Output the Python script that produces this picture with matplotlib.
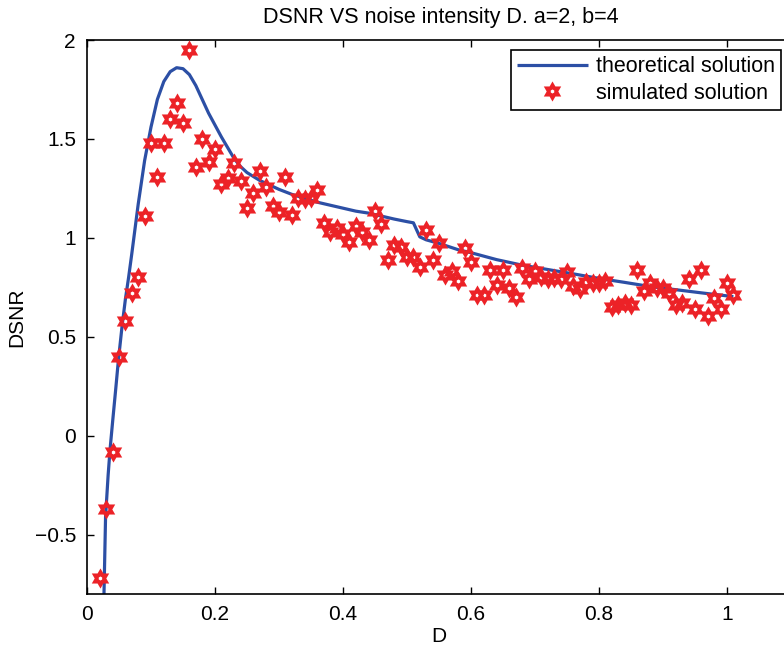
import numpy as np
import matplotlib
matplotlib.use("Agg")
import matplotlib.pyplot as plt
from matplotlib.path import Path

plt.rcParams['font.family'] = ['Liberation Sans', 'DejaVu Sans']

# simulated points (D, DSNR)
sim_D = [0.02, 0.03, 0.04, 0.05, 0.06, 0.07, 0.08, 0.09, 0.10, 0.11,
         0.12, 0.13, 0.14, 0.15, 0.16, 0.17, 0.18, 0.19, 0.20, 0.21,
         0.22, 0.23, 0.24, 0.25, 0.26, 0.27, 0.28, 0.29, 0.30, 0.31,
         0.32, 0.33, 0.34, 0.35, 0.36, 0.37, 0.38, 0.39, 0.40, 0.41,
         0.42, 0.43, 0.44, 0.45, 0.46, 0.47, 0.48, 0.49, 0.50, 0.51,
         0.52, 0.53, 0.54, 0.55, 0.56, 0.57, 0.58, 0.59, 0.60, 0.61,
         0.62, 0.63, 0.64, 0.65, 0.66, 0.67, 0.68, 0.69, 0.70, 0.71,
         0.72, 0.73, 0.74, 0.75, 0.76, 0.77, 0.78, 0.79, 0.80, 0.81,
         0.82, 0.83, 0.84, 0.85, 0.86, 0.87, 0.88, 0.89, 0.90, 0.91,
         0.92, 0.93, 0.94, 0.95, 0.96, 0.97, 0.98, 0.99, 1.00, 1.01]
sim_val = [-0.72, -0.37, -0.08, 0.40, 0.58, 0.72, 0.80, 1.11, 1.48, 1.31,
           1.48, 1.60, 1.68, 1.58, 1.95, 1.36, 1.50, 1.385, 1.45, 1.27,
           1.30, 1.377, 1.285, 1.15, 1.225, 1.34, 1.256, 1.16, 1.133, 1.306,
           1.116, 1.20, 1.195, 1.20, 1.24, 1.077, 1.03, 1.05, 1.02, 0.98,
           1.06, 1.03, 0.99, 1.136, 1.07, 0.89, 0.965, 0.956, 0.905, 0.905,
           0.855, 1.04, 0.89, 0.976, 0.81, 0.83, 0.78, 0.95, 0.88, 0.71,
           0.71, 0.84, 0.76, 0.84, 0.746, 0.70, 0.847, 0.79, 0.835, 0.80,
           0.79, 0.795, 0.79, 0.825, 0.755, 0.74, 0.775, 0.77, 0.77, 0.78,
           0.65, 0.66, 0.67, 0.66, 0.84, 0.73, 0.77, 0.745, 0.745, 0.72,
           0.66, 0.67, 0.79, 0.64, 0.84, 0.605, 0.695, 0.64, 0.77, 0.71]

# theoretical curve (D, DSNR)
th_D = [0.02, 0.025, 0.0266, 0.029, 0.033, 0.036, 0.04, 0.045, 0.049, 0.055,
        0.06, 0.065, 0.07, 0.08, 0.09, 0.10, 0.11, 0.12, 0.13, 0.14,
        0.15, 0.16, 0.17, 0.18, 0.19, 0.20, 0.21, 0.22, 0.23, 0.24,
        0.25, 0.26, 0.27, 0.28, 0.29, 0.30, 0.32, 0.34, 0.36, 0.38,
        0.40, 0.42, 0.44, 0.46, 0.48, 0.50, 0.51, 0.52, 0.53, 0.55,
        0.58, 0.60, 0.64, 0.68, 0.72, 0.76, 0.80, 0.84, 0.88, 0.92,
        0.96, 1.01]
th_val = [-3.0, -1.2, -0.79, -0.41, -0.20, -0.07, 0.07, 0.24, 0.38, 0.56,
          0.69, 0.80, 0.92, 1.17, 1.39, 1.56, 1.70, 1.79, 1.84, 1.86,
          1.855, 1.825, 1.77, 1.70, 1.63, 1.57, 1.51, 1.455, 1.40, 1.36,
          1.33, 1.31, 1.29, 1.275, 1.26, 1.245, 1.22, 1.20, 1.18, 1.165,
          1.15, 1.135, 1.125, 1.11, 1.095, 1.082, 1.076, 1.005, 0.99, 0.972,
          0.94, 0.925, 0.89, 0.862, 0.84, 0.818, 0.795, 0.775, 0.754, 0.738,
          0.722, 0.703]

x_ticks = [0, 0.2, 0.4, 0.6, 0.8, 1.0]
x_tick_labels = ['0', '0.2', '0.4', '0.6', '0.8', '1']
y_ticks = [-0.5, 0, 0.5, 1, 1.5, 2]
y_tick_labels = ['\u22120.5', '0', '0.5', '1', '1.5', '2']

# hexagram marker with a small hole in the centre
ang_out = np.deg2rad(90 + 60 * np.arange(6))
ang_in = np.deg2rad(120 + 60 * np.arange(6))
r_in = 1 / np.sqrt(3)
star = []
for a, b in zip(ang_out, ang_in):
    star.append((np.cos(a), np.sin(a)))
    star.append((r_in * np.cos(b), r_in * np.sin(b)))
hole_r = 0.2
hole = [(hole_r * np.cos(t), hole_r * np.sin(t))
        for t in np.deg2rad(90 - 60 * np.arange(6))]
verts = star + [star[0]] + hole + [hole[0]]
codes = ([Path.MOVETO] + [Path.LINETO] * (len(star) - 1) + [Path.CLOSEPOLY] +
         [Path.MOVETO] + [Path.LINETO] * (len(hole) - 1) + [Path.CLOSEPOLY])
hexagram = Path(verts, codes)

fig = plt.figure(figsize=(7.84, 6.52), dpi=100)
ax = fig.add_axes([87 / 784, (652 - 594) / 652, 704 / 784, 554 / 652])

line_color = '#2C4FA5'
red = '#EC2227'

ax.plot(th_D, th_val, color=line_color, lw=2.3, label='theoretical solution',
        solid_capstyle='butt', zorder=2)
ax.plot(sim_D, sim_val, linestyle='none', marker=hexagram, markersize=14.5,
        markerfacecolor=red, markeredgecolor=red, markeredgewidth=0,
        label='simulated solution', zorder=3)

ax.set_xlim(0, 1.1)
ax.set_ylim(-0.8, 2)
ax.set_xticks(x_ticks)
ax.set_xticklabels(x_tick_labels)
ax.set_yticks(y_ticks)
ax.set_yticklabels(y_tick_labels)
ax.tick_params(direction='in', top=True, right=False, length=5, width=1,
               labelsize=15, pad=8)
for s in ax.spines.values():
    s.set_linewidth(1.2)

fig.text(441 / 784, 1 - 23 / 652, 'DSNR VS noise intensity D. a=2, b=4',
         fontsize=15.5, ha='center', va='baseline')
ax.set_xlabel('D', fontsize=15, labelpad=2)
ax.set_ylabel('DSNR', fontsize=15, labelpad=6)

leg = ax.legend(loc='upper right', bbox_to_anchor=(781 / 784, 1 - 50 / 652),
                bbox_transform=fig.transFigure, borderaxespad=0,
                fontsize=15.5, fancybox=False, framealpha=1, edgecolor='black',
                handlelength=3.3, handletextpad=0.35, borderpad=0.3,
                labelspacing=0.25)
leg.get_frame().set_linewidth(1.2)

fig.savefig('out.png', dpi=100)
